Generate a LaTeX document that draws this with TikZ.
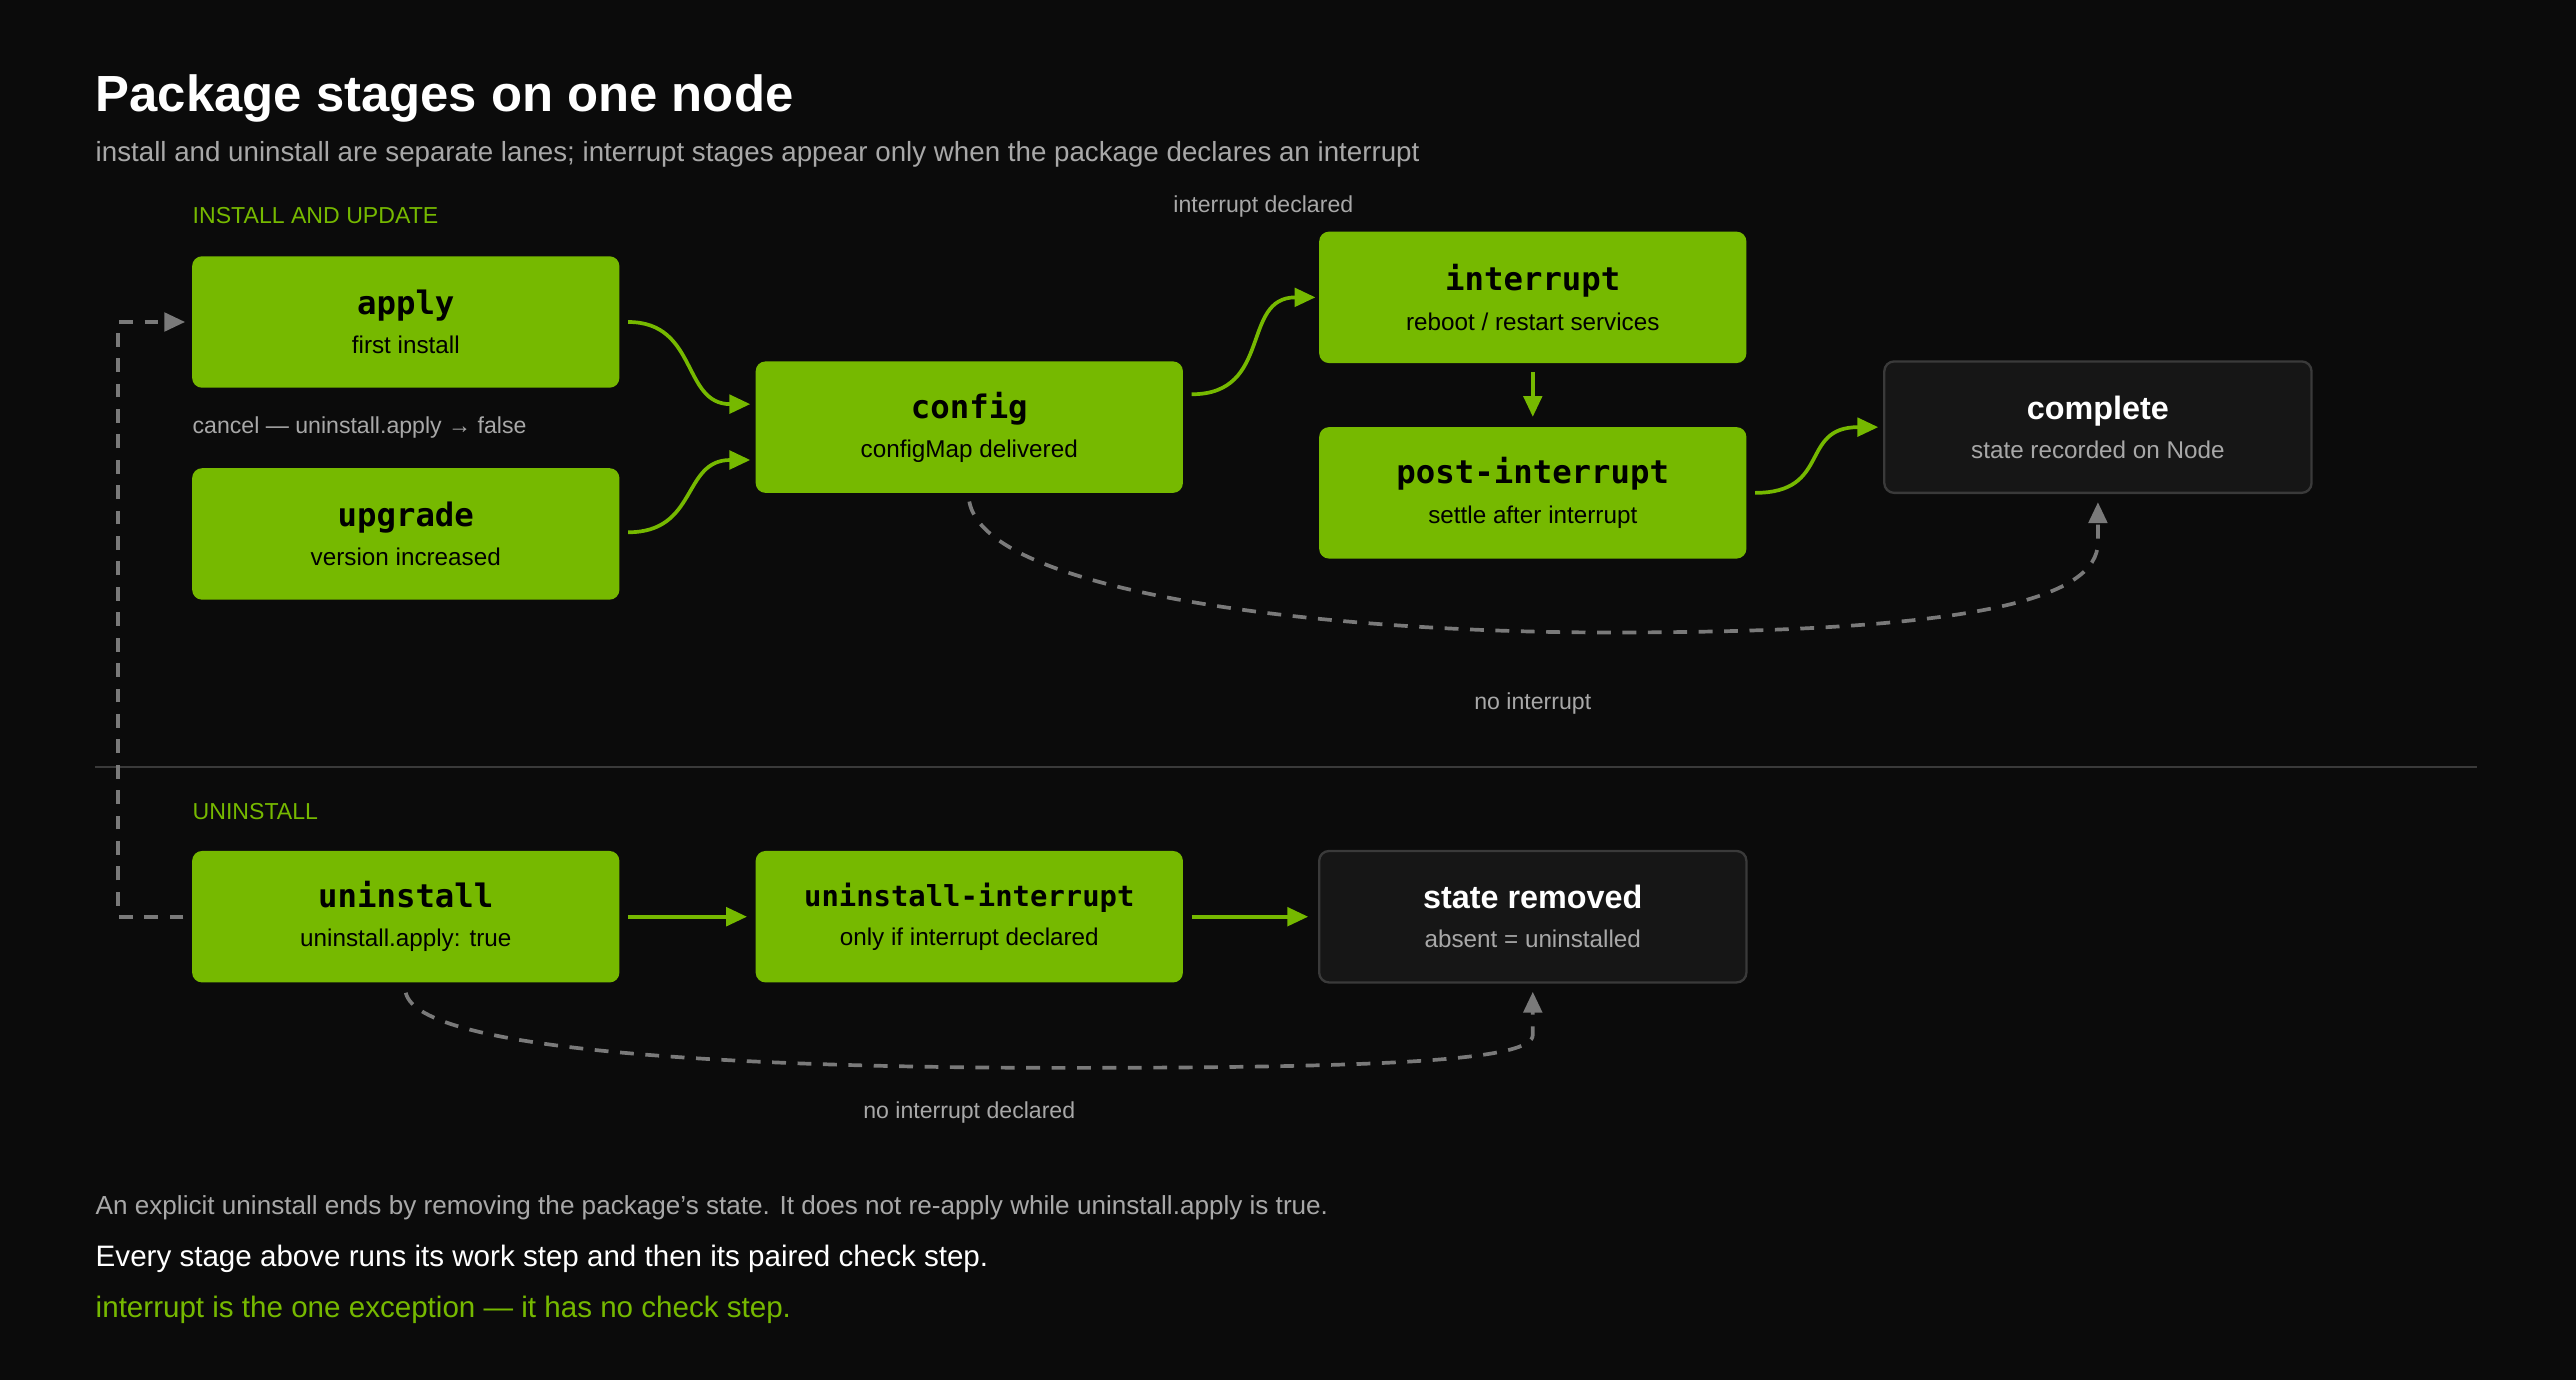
\documentclass[tikz,border=0pt]{standalone}
\usepackage{fontspec}
\setmainfont{Liberation Sans}
\newfontfamily\monof{DejaVu Sans Mono}
\usetikzlibrary{arrows.meta,calc}
\definecolor{bg}{HTML}{0B0B0B}
\definecolor{nv}{HTML}{76B900}
\definecolor{dbox}{HTML}{161616}
\definecolor{dborder}{HTML}{3A3A3A}
\definecolor{gtxt}{HTML}{A8A8A8}
\definecolor{dash}{HTML}{7A7A7A}
\begin{document}
\begin{tikzpicture}[x=0.025cm,y=-0.025cm,
  gbox/.style={fill=nv,draw=none,rounded corners=0.15cm,minimum width=6.5cm,minimum height=2cm,align=center,text=black,inner sep=0pt},
  dbx/.style={fill=dbox,draw=dborder,line width=1pt,rounded corners=0.15cm,minimum width=6.5cm,minimum height=2cm,align=center,inner sep=0pt},
  gl/.style={draw=nv,line width=1.6pt,-{Triangle[length=9pt,width=8pt]}},
  dl/.style={draw=dash,line width=1.6pt,dash pattern=on 6pt off 5pt,-{Triangle[length=9pt,width=8pt]}},
  lab/.style={text=gtxt,font=\fontsize{10}{12}\selectfont,inner sep=0pt}]
\fill[bg] (0,0) rectangle (1568,840);
\useasboundingbox (0,0) rectangle (1568,840);
\newcommand{\stg}[2]{{\monof\bfseries\fontsize{14}{16}\selectfont #1}\\[5pt]{\fontsize{10.5}{12}\selectfont #2}}
\newcommand{\dstg}[2]{{\color{white}\bfseries\fontsize{14}{16}\selectfont #1}\\[5pt]{\color{gtxt}\fontsize{10.5}{12}\selectfont #2}}
\node[anchor=west,text=white,font=\bfseries\fontsize{22}{26}\selectfont,inner sep=0pt] (title) at (58,60) {Package stages on one node};
\node[anchor=west,text=gtxt,font=\fontsize{12}{14}\selectfont,inner sep=0pt] (sub) at (58,94) {install and uninstall are separate lanes; interrupt stages appear only when the package declares an interrupt};
\node[anchor=west,text=nv,font=\fontsize{10}{12}\selectfont,inner sep=0pt] (l1) at (117,131) {INSTALL AND UPDATE};
\node[lab] (lid) at (769,126) {interrupt declared};
\node[lab,anchor=west] (lc) at (117,260) {cancel — uninstall.apply → false};
\node[lab] (lni) at (933,428) {no interrupt};
\draw[dborder,line width=1pt] (58,467) -- (1508,467);
\node[anchor=west,text=nv,font=\fontsize{10}{12}\selectfont,inner sep=0pt] (l2) at (117,494) {UNINSTALL};
\node[lab] (lnid) at (590,677) {no interrupt declared};

\node[gbox] (apply) at (247,196) {\stg{apply}{first install}};
\node[gbox] (upgrade) at (247,325) {\stg{upgrade}{version increased}};
\node[gbox] (config) at (590,260) {\stg{config}{configMap delivered}};
\node[gbox] (intr) at (933,181) {\stg{interrupt}{reboot / restart services}};
\node[gbox] (post) at (933,300) {\stg{post-interrupt}{settle after interrupt}};
\node[dbx] (complete) at (1277,260) {\dstg{complete}{state recorded on Node}};
\node[gbox] (unin) at (247,558) {\stg{uninstall}{uninstall.apply: true}};
\node[gbox] (unint) at (590,558) {{\monof\bfseries\fontsize{12.5}{15}\selectfont uninstall-interrupt}\\[5pt]{\fontsize{10.5}{12}\selectfont only if interrupt declared}};
\node[dbx] (removed) at (933,558) {\dstg{state removed}{absent = uninstalled}};

\draw[gl] ($(apply.east)+(5,0)$) .. controls (425,196) and (415,246) .. ($(config.west)+(-3,-14)$);
\draw[gl] ($(upgrade.east)+(5,-1)$) .. controls (425,324) and (415,280) .. ($(config.west)+(-3,20)$);
\draw[gl] ($(config.east)+(5,-20)$) .. controls (775,240) and (755,181) .. ($(intr.west)+(-2,0)$);
\draw[gl] ($(intr.south)+(0,5)$) -- ($(post.north)+(0,-6)$);
\draw[gl] ($(post.east)+(5,0)$) .. controls (1115,300) and (1095,260) .. ($(complete.west)+(-3,0)$);
\draw[gl] ($(unin.east)+(5,0)$) -- ($(unint.west)+(-5,0)$);
\draw[gl] ($(unint.east)+(5,0)$) -- ($(removed.west)+(-6,0)$);
\draw[dl] ($(config.south)+(0,5)$) .. controls (600,360) and (800,385) .. (980,385) .. controls (1200,385) and (1277,365) .. (1277,330) -- ($(complete.south)+(0,5)$);
\draw[dl] ($(unin.south)+(0,6)$) .. controls (255,640) and (450,650) .. (650,650) .. controls (850,650) and (933,645) .. (933,630) -- ($(removed.south)+(0,5)$);
\draw[dl] ($(unin.west)+(-5,0)$) -- (72,558) -- (72,196) -- ($(apply.west)+(-4,0)$);

\node[anchor=west,text=gtxt,font=\fontsize{11.3}{13}\selectfont,inner sep=0pt] (f1) at (58,735) {An explicit uninstall ends by removing the package's state. It does not re-apply while uninstall.apply is true.};
\node[anchor=west,text=white,font=\fontsize{12.8}{15}\selectfont,inner sep=0pt] (f2) at (58,766) {Every stage above runs its work step and then its paired check step.};
\node[anchor=west,text=nv,font=\fontsize{12.8}{15}\selectfont,inner sep=0pt] (f3) at (58,797) {interrupt is the one exception — it has no check step.};
\end{tikzpicture}
\end{document}
